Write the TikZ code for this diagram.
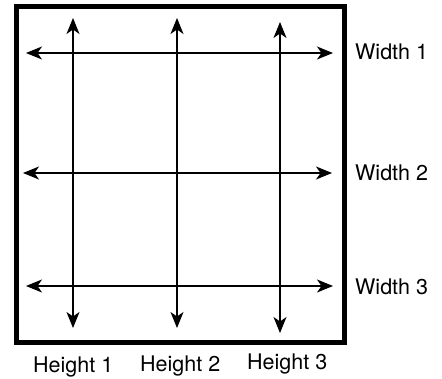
\documentclass[tikz,border=0pt]{standalone}
\usepackage{fontspec}
\setmainfont{TeX Gyre Heros}
\usepackage{tikz}
\usetikzlibrary{arrows.meta}
\newcommand{\lbl}{\fontsize{21.5}{25}\selectfont}

\begin{document}
\begin{tikzpicture}[x=1pt,y=-1pt,
    dim/.style={line width=1.3pt,{Stealth[length=16pt,width=13pt,inset=4.5pt]}-{Stealth[length=16pt,width=13pt,inset=4.5pt]}},
    tag/.style={anchor=base west,inner sep=0pt,font=\lbl}]
       \useasboundingbox (0,0) rectangle (442,379);
       \draw[line width=5.8pt] (16.5,6.5) rectangle (344.5,342.5);
       % widths
       \coordinate (w1l) at (26,53);  \coordinate (w1r) at (333,53);
       \coordinate (w2l) at (23,173); \coordinate (w2r) at (332,173);
       \coordinate (w3l) at (26,286); \coordinate (w3r) at (333,286);
       \draw[dim] (w1l) -- (w1r);
       \draw[dim] (w2l) -- (w2r);
       \draw[dim] (w3l) -- (w3r);
       % heights
       \coordinate (h1t) at (73,18);  \coordinate (h1b) at (73,328);
       \coordinate (h2t) at (177,18); \coordinate (h2b) at (177,328);
       \coordinate (h3t) at (280,22); \coordinate (h3b) at (280,333);
       \draw[dim] (h1t) -- (h1b);
       \draw[dim] (h2t) -- (h2b);
       \draw[dim] (h3t) -- (h3b);
       \node[tag] (wl1) at (355,60)  {Width 1};
       \node[tag] (wl2) at (355,181) {Width 2};
       \node[tag] (wl3) at (355,295) {Width 3};
       \node[tag] (hl1) at (33,373)  {Height 1};
       \node[tag] (hl2) at (140,372) {Height 2};
       \node[tag] (hl3) at (247,370) {Height 3};
      \end{tikzpicture}
\end{document}
